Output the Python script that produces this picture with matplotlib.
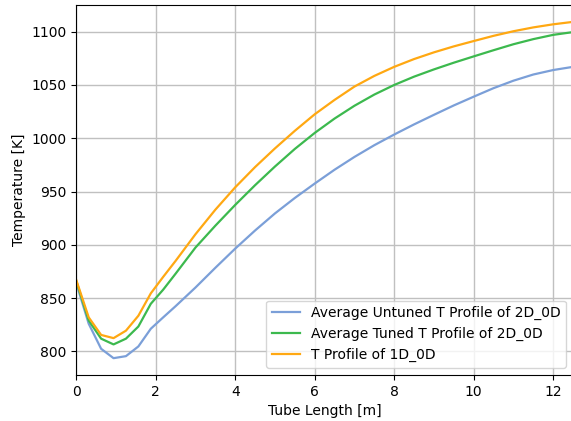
import matplotlib
matplotlib.use("Agg")
import matplotlib.pyplot as plt
import numpy as np

# axial positions along the tube [m]
tube_length = [0.0, 0.3125, 0.625, 0.9375, 1.25, 1.5625, 1.875, 2.1875, 2.5,
               3.0, 3.5, 4.0, 4.5, 5.0, 5.5, 6.0, 6.5, 7.0, 7.5, 8.0, 8.5,
               9.0, 9.5, 10.0, 10.5, 11.0, 11.5, 12.0, 12.5]

# temperature profiles [K]
T_untuned_2d = [864.0, 826.0, 802.5, 793.7, 795.6, 804.7, 821.3, 832.0, 842.5,
                860.0, 878.5, 896.5, 913.5, 929.5, 944.0, 957.5, 970.5, 982.5,
                993.5, 1003.5, 1013.0, 1022.0, 1030.8, 1039.0, 1047.0, 1054.0,
                1059.8, 1064.0, 1067.0]
T_tuned_2d = [866.0, 829.0, 812.0, 806.6, 812.0, 823.4, 844.7, 858.0, 873.0,
              897.5, 918.0, 937.5, 956.0, 973.5, 990.0, 1005.0, 1018.5, 1030.5,
              1041.0, 1050.0, 1057.8, 1064.6, 1070.9, 1076.8, 1082.6, 1088.2,
              1093.0, 1097.0, 1099.6]
T_1d = [867.0, 832.0, 815.5, 812.5, 819.5, 833.5, 854.5, 870.0, 885.0,
        910.0, 933.0, 954.0, 973.0, 990.5, 1007.0, 1022.5, 1036.0, 1048.5,
        1058.5, 1067.0, 1074.3, 1080.6, 1086.2, 1091.2, 1096.1, 1100.4,
        1104.0, 1106.9, 1109.2]

fig = plt.figure(figsize=(5.71, 4.21), dpi=100)
ax = fig.add_axes([0.1336, 0.1093, 0.8699, 0.8787])

ax.plot(tube_length, T_untuned_2d, color="#7b9fd8", lw=1.6,
        label="Average Untuned T Profile of 2D_0D")
ax.plot(tube_length, T_tuned_2d, color="#3cb94e", lw=1.6,
        label="Average Tuned T Profile of 2D_0D")
ax.plot(tube_length, T_1d, color="#ffa812", lw=1.6,
        label="T Profile of 1D_0D")

ax.set_xlim(0, 12.5)
ax.set_xticks([0, 2, 4, 6, 8, 10, 12])
ax.set_xlabel("Tube Length [m]")
ax.set_ylabel("Temperature [K]")
ax.grid(True, color="#c0c0c0", lw=1.0)
ax.legend(loc="lower right")

fig.savefig("out.png", dpi=100)
